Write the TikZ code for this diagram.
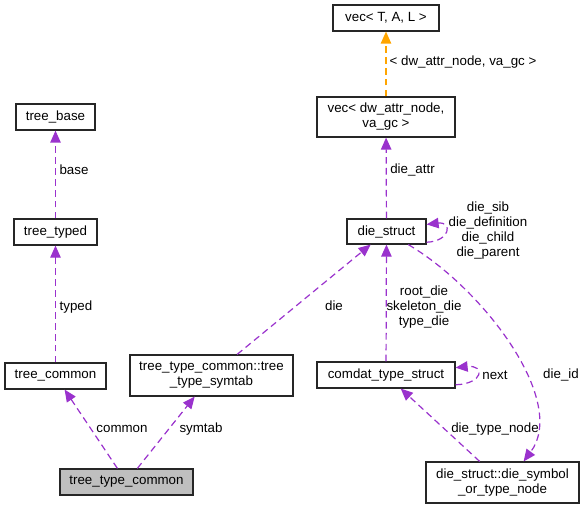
\documentclass[tikz,border=0pt]{standalone}
\usepackage{fontspec}
\setmainfont{Liberation Sans}
\usetikzlibrary{arrows.meta}
\definecolor{usedpurple}{HTML}{9A32CD}
\definecolor{tplorange}{HTML}{FFA500}
\definecolor{selfgray}{HTML}{BFBFBF}
\begin{document}
\begin{tikzpicture}[x=0.75pt,y=-0.75pt,
    font=\fontsize{10}{11.25}\selectfont,
    cls/.style={draw=black!85,line width=0.9pt,fill=white,inner sep=0pt,align=center,minimum height=19.5pt},
    uses/.style={usedpurple,line width=0.9pt,dash pattern=on 5pt off 3.2pt,-{Triangle[length=9pt,width=7.8pt]}},
    inst/.style={uses,tplorange},
    lbl/.style={inner sep=0pt,align=center}]
    \useasboundingbox[fill=white] (0,0) rectangle (584,509);

    % classes
    \node[cls,minimum width=79.5pt] (vecT) at (386,18) {vec< T, A, L >};
    \node[cls,minimum width=103.5pt,minimum height=30pt] (vecdw) at (386,117) {vec< dw\_attr\_node,\\va\_gc >};
    \node[cls,minimum width=59.25pt,minimum height=18.75pt] (die) at (386.5,231.5) {die\_struct};
    \node[cls,minimum width=59.25pt] (base) at (55.5,117) {tree\_base};
    \node[cls,minimum width=62.25pt] (typed) at (55.5,232) {tree\_typed};
    \node[cls,minimum width=75.75pt] (common) at (55.5,376) {tree\_common};
    \node[cls,minimum width=122.25pt,minimum height=30.75pt] (symtab) at (211.5,375.5) {tree\_type\_common::tree\\\_type\_symtab};
    \node[cls,minimum width=99.75pt,fill=selfgray] (ttc) at (126.5,482) {tree\_type\_common};
    \node[cls,minimum width=103.5pt] (comdat) at (386,375) {comdat\_type\_struct};
    \node[cls,minimum width=114.75pt,minimum height=30.75pt] (dsym) at (502.5,482.5) {die\_struct::die\_symbol\\\_or\_type\_node};

    % members
    \draw[inst] (vecdw) -- (vecT);
    \draw[uses] (die) -- (vecdw);
    \draw[uses] (die.-15) .. controls +(24,-1) and +(26,-3) .. (die.10);
    \draw[uses] (symtab) -- (die);
    \draw[uses] (comdat) -- (die);
    \draw[uses] (die.-31) .. controls (485,290) and (568,402) .. (dsym.45);
    \draw[uses] (comdat.-8) .. controls +(28,-1) and +(30,-3) .. (comdat.6);
    \draw[uses] (dsym) -- (comdat);
    \draw[uses] (typed) -- (base);
    \draw[uses] (common) -- (typed);
    \draw[uses] (ttc) -- (common);
    \draw[uses] (ttc) -- (symtab);

    % labels
    \node[lbl] (l-vecT) at (463,62) {< dw\_attr\_node, va\_gc >};
    \node[lbl] (l-attr) at (412.5,170) {die\_attr};
    \node[lbl] (l-self) at (488,230.5) {die\_sib\\die\_definition\\die\_child\\die\_parent};
    \node[lbl] (l-root) at (424,307) {root\_die\\skeleton\_die\\type\_die};
    \node[lbl] (l-die) at (334,306) {die};
    \node[lbl] (l-next) at (495,375) {next};
    \node[lbl] (l-id) at (561,375) {die\_id};
    \node[lbl] (l-dtn) at (495,429) {die\_type\_node};
    \node[lbl] (l-base) at (74,170) {base};
    \node[lbl] (l-typed) at (76,307) {typed};
    \node[lbl] (l-common) at (122,429) {common};
    \node[lbl] (l-symtab) at (201,429) {symtab};
\end{tikzpicture}
\end{document}
